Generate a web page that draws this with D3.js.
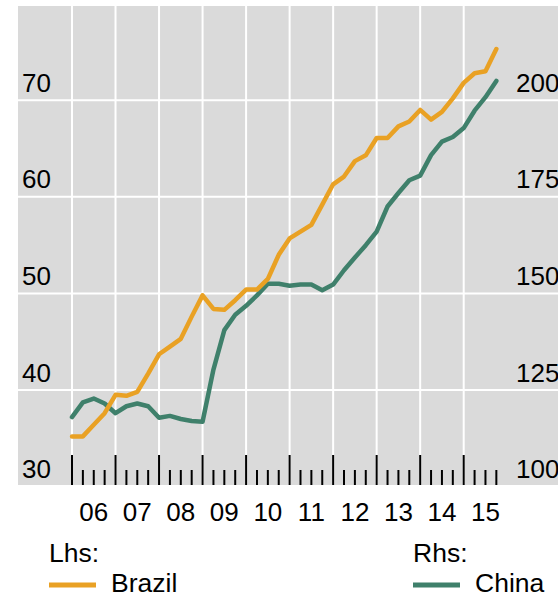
<!DOCTYPE html>
<html>
<head>
<meta charset="utf-8">
<script src="https://cdn.jsdelivr.net/npm/d3@7"></script>
<style>
  html, body { margin: 0; padding: 0; background: #fff; }
  svg { display: block; font-family: "Liberation Sans", Arial, sans-serif; }
</style>
</head>
<body>
<svg id="chart" width="558" height="598"></svg>
<script>
// ---- data (quarterly, 2006Q1 .. 2015Q4) ----
const years = [2006, 2007, 2008, 2009, 2010, 2011, 2012, 2013, 2014, 2015];
const yearLabels = ["06", "07", "08", "09", "10", "11", "12", "13", "14", "15"];
const brazil = [
  35.2, 35.2, 36.4, 37.6,
  39.5, 39.4, 39.8, 41.7,
  43.7, 44.5, 45.3, 47.6,
  49.8, 48.4, 48.3, 49.3,
  50.4, 50.4, 51.5, 54.0,
  55.7, 56.4, 57.1, 59.2,
  61.3, 62.1, 63.7, 64.3,
  66.1, 66.1, 67.3, 67.8,
  69.0, 68.0, 68.8, 70.2,
  71.8, 72.8, 73.0, 75.3
];
const china = [
  118.0, 121.8, 122.8, 121.5,
  119.0, 120.8, 121.5, 120.8,
  117.8, 118.3, 117.5, 117.0,
  116.8, 130.3, 140.5, 144.5,
  146.8, 149.5, 152.5, 152.5,
  152.0, 152.3, 152.3, 150.8,
  152.3, 156.0, 159.3, 162.5,
  166.0, 172.5, 176.0, 179.3,
  180.5, 185.8, 189.3, 190.5,
  192.8, 197.3, 200.8, 205.0
];
const lhsTicks = [30, 40, 50, 60, 70];
const rhsTicks = [100, 125, 150, 175, 200];
const seriesNames = ["Brazil", "China"];

// ---- layout ----
const svg = d3.select("#chart");
const plot = { left: 18, top: 6, right: 558, bottom: 485 };
const orange = "#E9A124";
const green = "#3F806B";

const x = d3.scaleLinear().domain([2006, 2015]).range([72, 463.7]);
const yL = d3.scaleLinear().domain([30, 80]).range([486.6, 3.7]);
const yR = d3.scaleLinear().domain([100, 225]).range([486.6, 3.7]);

const quarters = d3.range(brazil.length).map(i => 2006 + i / 4);

// background
svg.append("rect")
  .attr("x", plot.left).attr("y", plot.top)
  .attr("width", plot.right - plot.left).attr("height", plot.bottom - plot.top)
  .attr("fill", "#DADADA");

// vertical gridlines at year starts
svg.append("g").selectAll("line").data(years).join("line")
  .attr("x1", d => x(d)).attr("x2", d => x(d))
  .attr("y1", plot.top).attr("y2", plot.bottom)
  .attr("stroke", "#fff").attr("stroke-width", 2);

// horizontal gridlines
svg.append("g").selectAll("line").data(lhsTicks.filter(d => d > 30)).join("line")
  .attr("x1", plot.left).attr("x2", plot.right)
  .attr("y1", d => yL(d)).attr("y2", d => yL(d))
  .attr("stroke", "#fff").attr("stroke-width", 2);

// x ticks (major at years, minor at quarters)
const tickG = svg.append("g");
tickG.selectAll("line").data(quarters).join("line")
  .attr("x1", d => x(d)).attr("x2", d => x(d))
  .attr("y1", (d, i) => i % 4 === 0 ? 455 : 470)
  .attr("y2", plot.bottom)
  .attr("stroke", "#000").attr("stroke-width", 2);

// left axis labels
svg.append("g").selectAll("text").data(lhsTicks).join("text")
  .attr("x", 22).attr("y", d => yL(d) - 8.5)
  .attr("font-size", 26).attr("fill", "#000")
  .text(d => d);

// right axis labels
svg.append("g").selectAll("text").data(rhsTicks).join("text")
  .attr("x", 516).attr("y", d => yR(d) - 8.5)
  .attr("font-size", 26).attr("fill", "#000")
  .text(d => d);

// x labels
svg.append("g").selectAll("text").data(years).join("text")
  .attr("x", d => x(d + 0.5)).attr("y", 521)
  .attr("text-anchor", "middle")
  .attr("font-size", 26).attr("fill", "#000")
  .text((d, i) => yearLabels[i]);

// lines
const lineL = d3.line().x((d, i) => x(quarters[i])).y(d => yL(d));
const lineR = d3.line().x((d, i) => x(quarters[i])).y(d => yR(d));

svg.append("path").datum(china)
  .attr("d", lineR).attr("fill", "none")
  .attr("stroke", green).attr("stroke-width", 4.5)
  .attr("stroke-linejoin", "round").attr("stroke-linecap", "round");

svg.append("path").datum(brazil)
  .attr("d", lineL).attr("fill", "none")
  .attr("stroke", orange).attr("stroke-width", 4.5)
  .attr("stroke-linejoin", "round").attr("stroke-linecap", "round");

// legend
const legend = [
  { head: "Lhs:", name: seriesNames[0], color: orange, x0: 49 },
  { head: "Rhs:", name: seriesNames[1], color: green, x0: 413 }
];
const lg = svg.append("g");
legend.forEach(l => {
  lg.append("text").attr("x", l.x0).attr("y", 562)
    .attr("font-size", 26.5).attr("fill", "#000").text(l.head);
  lg.append("line")
    .attr("x1", l.x0).attr("x2", l.x0 + 47)
    .attr("y1", 585).attr("y2", 585)
    .attr("stroke", l.color).attr("stroke-width", 5);
  lg.append("text").attr("x", l.x0 + 62).attr("y", 591.5)
    .attr("font-size", 26.5).attr("fill", "#000").text(l.name);
});
</script>
</body>
</html>
